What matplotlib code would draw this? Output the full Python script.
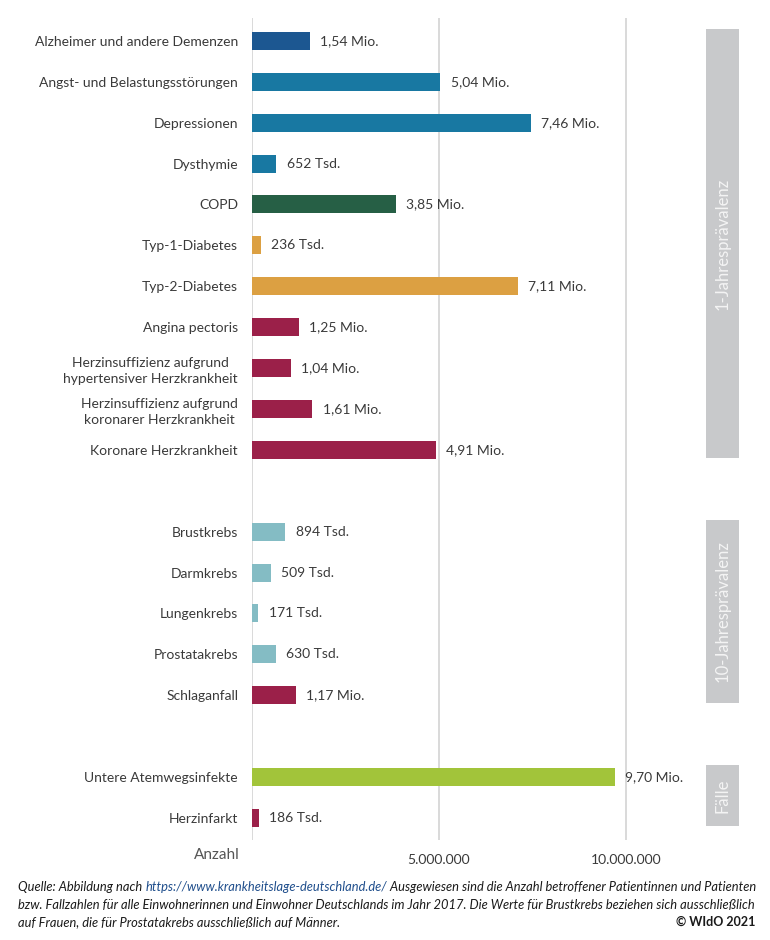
import matplotlib
matplotlib.use("Agg")
import matplotlib.pyplot as plt
from matplotlib.patches import Rectangle

plt.rcParams['font.family'] = ['Lato', 'DejaVu Sans']

categories = [
    "Alzheimer und andere Demenzen",
    "Angst- und Belastungsstörungen",
    "Depressionen",
    "Dysthymie",
    "COPD",
    "Typ-1-Diabetes",
    "Typ-2-Diabetes",
    "Angina pectoris",
    "Herzinsuffizienz aufgrund\nhypertensiver Herzkrankheit",
    "Herzinsuffizienz aufgrund\nkoronarer Herzkrankheit",
    "Koronare Herzkrankheit",
    "Brustkrebs",
    "Darmkrebs",
    "Lungenkrebs",
    "Prostatakrebs",
    "Schlaganfall",
    "Untere Atemwegsinfekte",
    "Herzinfarkt",
]
values = [1540000, 5040000, 7460000, 652000, 3850000, 236000, 7110000,
          1250000, 1040000, 1610000, 4910000,
          894000, 509000, 171000, 630000, 1170000,
          9700000, 186000]
value_labels = ["1,54 Mio.", "5,04 Mio.", "7,46 Mio.", "652 Tsd.", "3,85 Mio.",
                "236 Tsd.", "7,11 Mio.", "1,25 Mio.", "1,04 Mio.", "1,61 Mio.",
                "4,91 Mio.", "894 Tsd.", "509 Tsd.", "171 Tsd.", "630 Tsd.",
                "1,17 Mio.", "9,70 Mio.", "186 Tsd."]
groups = ["1-Jahresprävalenz"] * 11 + ["10-Jahresprävalenz"] * 5 + ["Fälle"] * 2
bar_colors = ["#1c5791", "#1878a2", "#1878a2", "#1878a2", "#265f45",
              "#dca042", "#dca042", "#9b2049", "#9b2049", "#9b2049",
              "#9b2049", "#84bcc4", "#84bcc4", "#84bcc4", "#84bcc4",
              "#9b2049", "#a2c43a", "#9b2049"]
ticks = [5000000, 10000000]
tick_labels = ["5.000.000", "10.000.000"]

# row positions: a blank slot between groups
pos = []
slot = 0
prev = groups[0]
for g in groups:
    if g != prev:
        slot += 1
        prev = g
    pos.append(slot)
    slot += 1

W, H = 770, 940
fig = plt.figure(figsize=(W / 100, H / 100), dpi=100)
ax_left, ax_right, ax_top, ax_bot = 252, 682, 18, 840
ax = fig.add_axes([ax_left / W, 1 - ax_bot / H, (ax_right - ax_left) / W, (ax_bot - ax_top) / H])

ax.barh(pos, values, height=0.44, color=bar_colors, zorder=3)
ax.set_xlim(0, 11.5e6)
ax.set_ylim(pos[-1] + 0.54, -0.56)
for x in [0] + ticks:
    ax.axvline(x, color="#d3d3d3", lw=1.2, zorder=1)
for s in ax.spines.values():
    s.set_visible(False)

ax.set_yticks(pos)
ax.set_yticklabels(categories, fontsize=10, color="#3a3a3a", multialignment="center",
                   linespacing=1.4)
ax.tick_params(axis="y", length=0, pad=10)
ax.set_xticks(ticks)
ax.set_xticklabels(tick_labels, fontsize=10, color="#3a3a3a")
ax.tick_params(axis="x", length=0, pad=10)

for p, v, lab in zip(pos, values, value_labels):
    ax.annotate(lab, (v, p), xytext=(7.5, 0), textcoords="offset points",
                ha="left", va="center", fontsize=10, color="#3a3a3a")

fig.text(217 / W, 1 - 855 / H, "Anzahl", ha="center", va="center", fontsize=11, color="#555555")

# group boxes
box_specs = {"1-Jahresprävalenz": (29, 458), "10-Jahresprävalenz": (520, 703), "Fälle": (765, 826)}
for name, (y0, y1) in box_specs.items():
    fig.add_artist(Rectangle((706 / W, 1 - y1 / H), 33 / W, (y1 - y0) / H,
                             transform=fig.transFigure, facecolor="#c8c9cb", edgecolor="none"))
    fig.text(722.5 / W, 1 - (y0 + y1) / 2 / H, name, rotation=90, ha="center", va="center",
             fontsize=12, color="#f4f4f4")

# footer
fs = 9.25
fcol = "#1a1a1a"
t1 = fig.text(18 / W, 1 - 887 / H, "Quelle: Abbildung nach ", fontsize=fs, style="italic",
              color=fcol, va="center", ha="left")
t2 = fig.text(0, 0, "https://www.krankheitslage-deutschland.de/", fontsize=fs, style="italic",
              color="#1f4e8c", va="center", ha="left")
fig.canvas.draw()
r = fig.canvas.get_renderer()
bb = t1.get_window_extent(r)
t2.set_position((bb.x1 / W, 1 - 887 / H))
bb2 = t2.get_window_extent(r)
fig.text(bb2.x1 / W, 1 - 887 / H,
         " Ausgewiesen sind die Anzahl betroffener Patientinnen und Patienten",
         fontsize=fs, style="italic", color=fcol, va="center", ha="left")
fig.text(18 / W, 1 - 905 / H,
         "bzw. Fallzahlen für alle Einwohnerinnen und Einwohner Deutschlands im Jahr 2017. "
         "Die Werte für Brustkrebs beziehen sich ausschließlich",
         fontsize=fs, style="italic", color=fcol, va="center", ha="left")
fig.text(18 / W, 1 - 922 / H,
         "auf Frauen, die für Prostatakrebs ausschließlich auf Männer.",
         fontsize=fs, style="italic", color=fcol, va="center", ha="left")
fig.text(755 / W, 1 - 922 / H, "© WIdO 2021", fontsize=9, fontweight="bold",
         color="#1a1a1a", va="center", ha="right")

fig.savefig("out.png", dpi=100)
